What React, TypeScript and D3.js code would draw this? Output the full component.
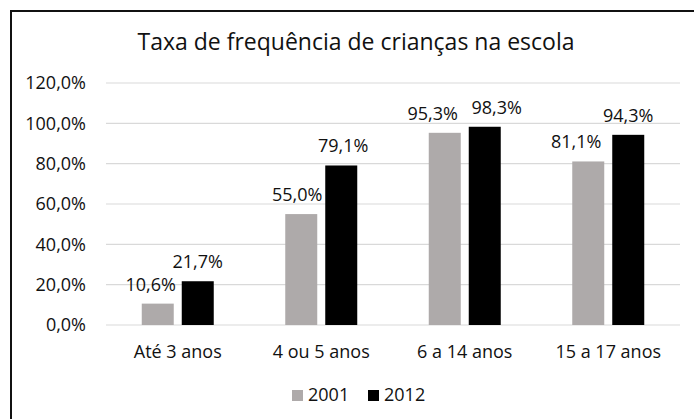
import * as d3 from 'd3';
import React from 'react';

const categories = ['Até 3 anos', '4 ou 5 anos', '6 a 14 anos', '15 a 17 anos'];
const seriesNames = ['2001', '2012'];
const values2001 = [10.6, 55.0, 95.3, 81.1];
const values2012 = [21.7, 79.1, 98.3, 94.3];
const yTicks = [0, 20, 40, 60, 80, 100, 120];
const colors = ['#aeaaaa', '#000000'];

// nudges Excel applied so neighbouring labels don't collide
const labelShift = [
  [-7, -4, -12, -12],
  [0, 2, 12, 0],
];

const FONT = '"Open Sans", Lato, sans-serif';
const SMALL = 18;
const fmt = (v: number) => v.toFixed(1).replace('.', ',') + '%';

const App = () => {
  const width = 694;
  const height = 419;
  const margin = { top: 83, right: 14, bottom: 94, left: 106 };

  const x = d3.scaleBand()
    .domain(categories)
    .range([margin.left, width - margin.right])
    .paddingInner(0)
    .paddingOuter(0);

  const y = d3.scaleLinear()
    .domain([0, 120])
    .range([height - margin.bottom, margin.top]);

  const barW = 32;
  const gap = 8;
  const series = [values2001, values2012];

  return (
    <svg width={width} height={height} style={{ position: 'absolute', left: 0, top: 0 }}>
      <rect x={0} y={0} width={width} height={height} fill="#fff" />
      <rect x={11} y={11} width={width} height={height} fill="none" stroke="#111" strokeWidth={2} />

      <text x={356} y={50} textAnchor="middle" fontFamily={FONT} fontSize={23} fill="#111">
        Taxa de frequência de crianças na escola
      </text>

      {yTicks.map(t => (
        <g key={t}>
          <line x1={margin.left} x2={width - margin.right} y1={y(t)} y2={y(t)} stroke="#d9d9d9" strokeWidth={1.2} />
          <text x={86} y={y(t)} dy="0.35em" textAnchor="end" fontFamily={FONT} fontSize={SMALL} fill="#111">
            {fmt(t)}
          </text>
        </g>
      ))}

      {categories.map((c, ci) => {
        const cx = (x(c) as number) + x.bandwidth() / 2;
        return (
          <g key={c}>
            {series.map((vals, si) => {
              const bx = cx - gap / 2 - barW + si * (barW + gap);
              const v = vals[ci];
              return (
                <g key={si}>
                  <rect x={bx} y={y(v)} width={barW} height={y(0) - y(v)} fill={colors[si]} />
                  <text
                    x={bx + barW / 2 + labelShift[si][ci]}
                    y={y(v) - 13}
                    textAnchor="middle"
                    fontFamily={FONT}
                    fontSize={SMALL}
                    fill="#111"
                  >
                    {fmt(v)}
                  </text>
                </g>
              );
            })}
            <text x={cx} y={358} textAnchor="middle" fontFamily={FONT} fontSize={SMALL} fill="#111">
              {c}
            </text>
          </g>
        );
      })}

      {seriesNames.map((s, i) => (
        <g key={s} transform={`translate(${292 + i * 76},390)`}>
          <rect x={0} y={0} width={11} height={11} fill={colors[i]} />
          <text x={16} y={11} fontFamily={FONT} fontSize={SMALL} fill="#111">{s}</text>
        </g>
      ))}
    </svg>
  );
};

export default App;
